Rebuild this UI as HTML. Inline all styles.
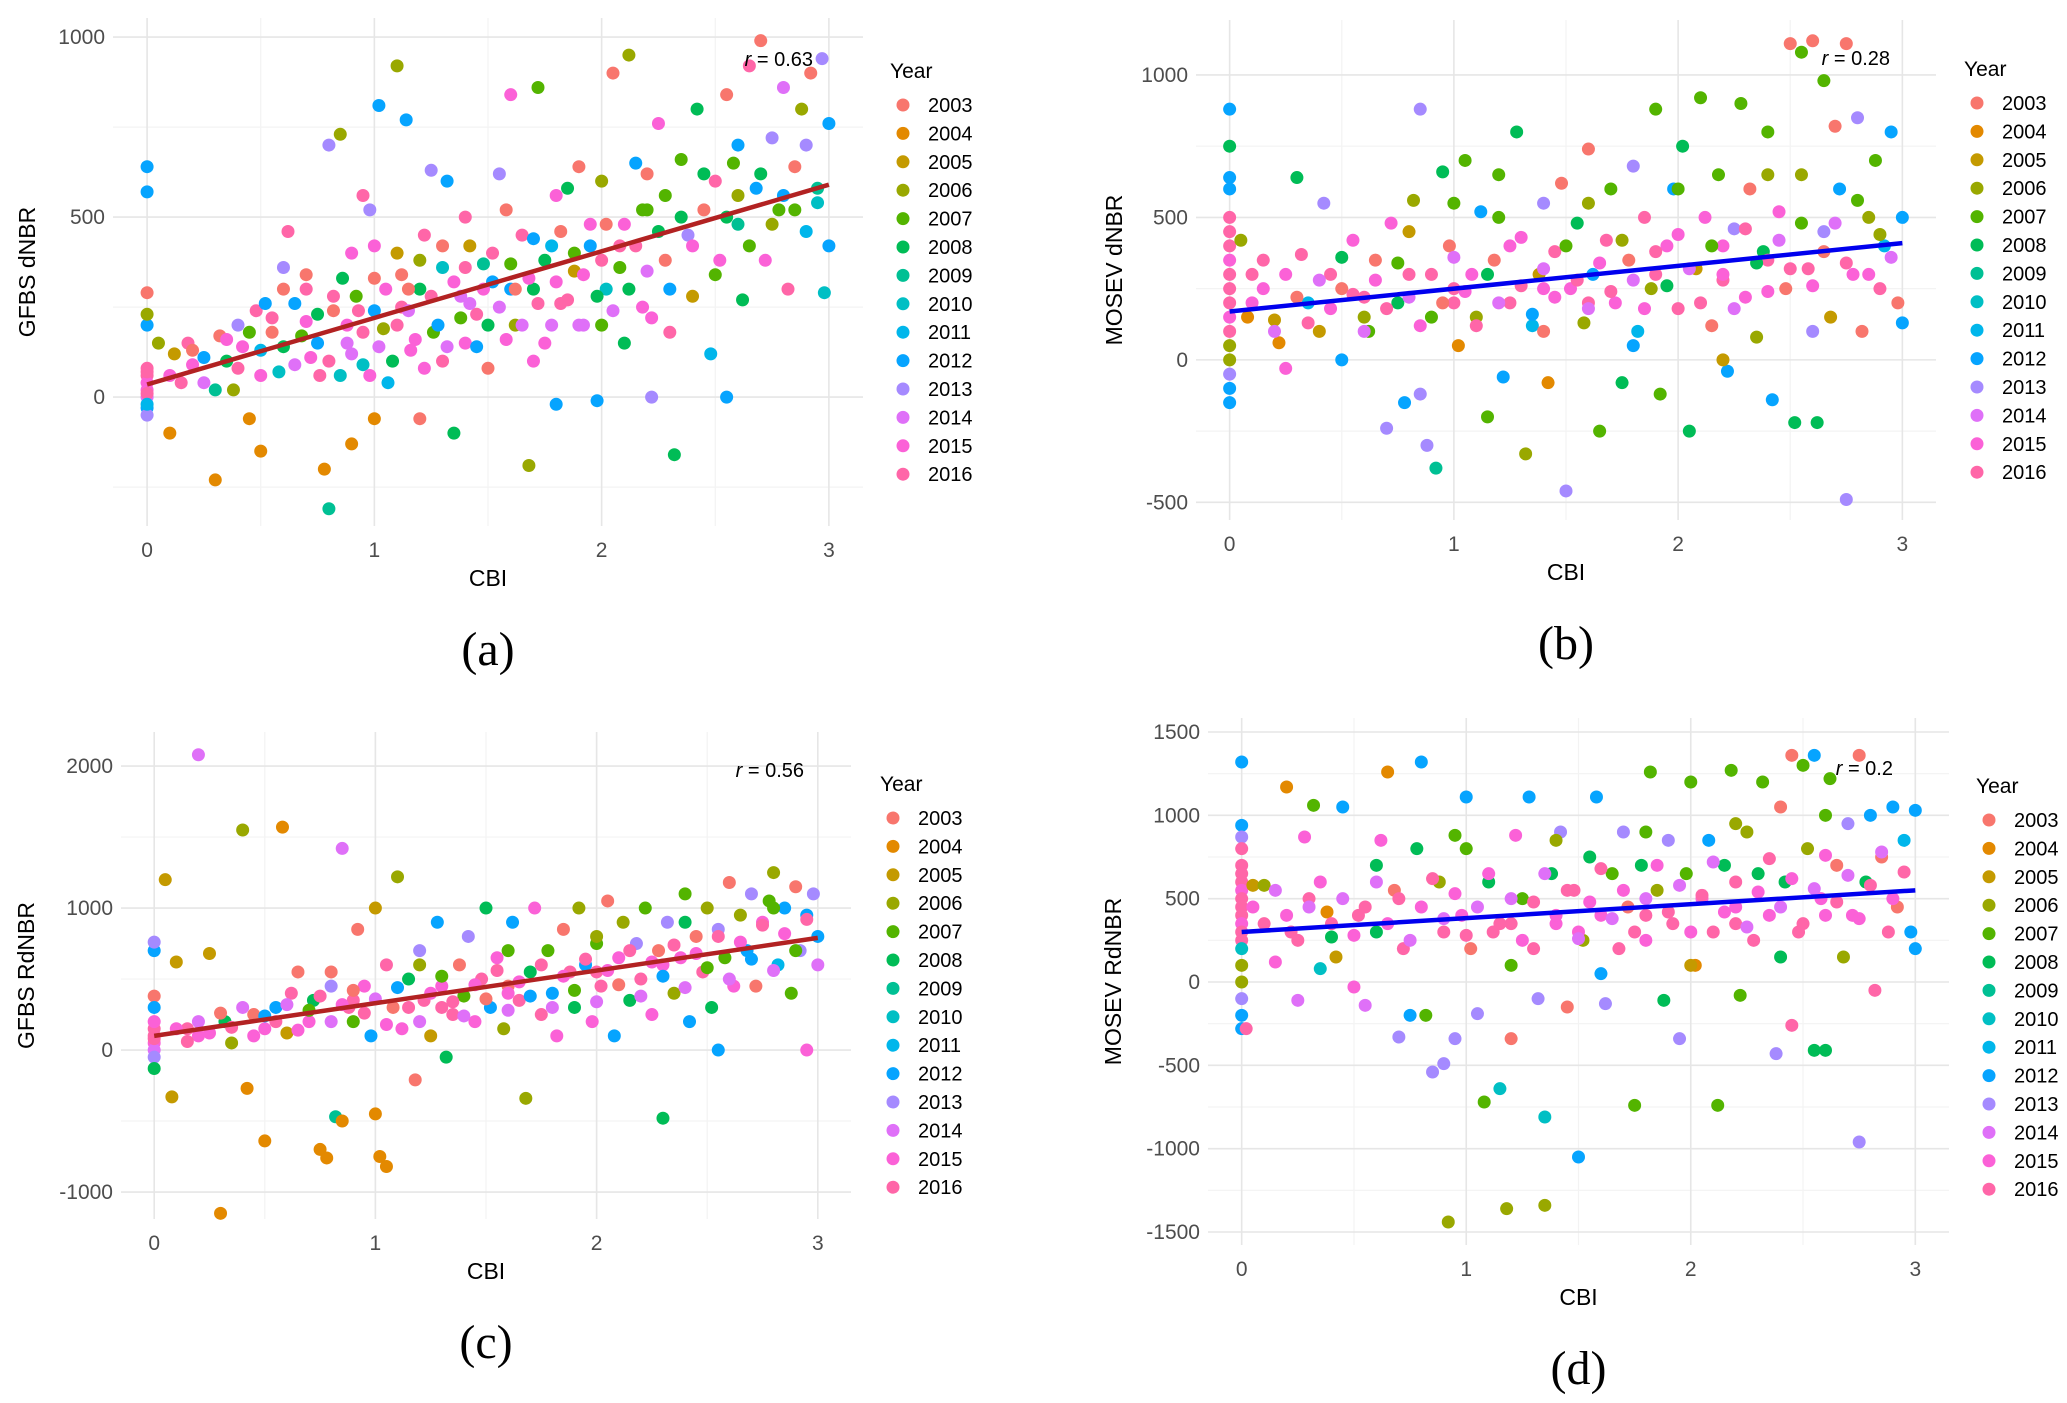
<!DOCTYPE html>
<html><head><meta charset="utf-8"><style>
html,body{margin:0;padding:0;background:#fff}
svg{display:block}
text{font-family:"Liberation Sans",sans-serif}
</style></head><body>
<svg id="fig" width="2067" height="1403" viewBox="0 0 2067 1403" xmlns="http://www.w3.org/2000/svg"></svg>
<script>
const years=["2003","2004","2005","2006","2007","2008","2009","2010","2011","2012","2013","2014","2015","2016"];
const colors=["#F8766D","#E38900","#C49A00","#99A800","#53B400","#00BC56","#00C094","#00BFC4","#00B6EB","#06A4FF","#A58AFF","#DF70F8","#FB61D7","#FF66A8"];
const xTicks=[0,1,2,3];
const aYTicks=[0,500,1000];
const bYTicks=[-500,0,500,1000];
const cYTicks=[-1000,0,1000,2000];
const dYTicks=[-1500,-1000,-500,0,500,1000,1500];
const aFit=[35,590]; const bFit=[170,410]; const cFit=[100,790]; const dFit=[300,550];
const rLabels=["0.63","0.28","0.56","0.2"];
const aPts=[[0,60,13],[0,20,12],[0,-30,9],[0,80,13],[0,0,11],[0,-50,10],[0,40,12],[0,640,9],[0,570,9],[0,200,9],[0,290,0],[0,230,3],[0,70,13],[0,10,13],[0,-20,8],
[0.05,150,3],[0.1,-100,1],[0.12,120,2],[0.18,150,13],[0.2,90,12],[0.25,40,11],[0.3,-230,1],[0.32,170,0],[0.35,100,5],[0.38,20,3],[0.4,200,10],[0.42,140,12],[0.45,-60,1],[0.48,240,13],[0.5,130,8],[0.5,-150,1],[0.52,260,9],[0.55,180,0],[0.58,70,7],[0.6,360,10],[0.62,460,13],[0.65,260,9],[0.68,170,4],[0.7,340,0],[0.72,110,12],[0.75,230,5],[0.76,60,13],[0.78,-200,1],[0.8,700,10],[0.8,-310,6],[0.82,280,13],[0.85,730,3],[0.86,330,5],[0.88,150,11],[0.9,-130,1],[0.9,400,12],[0.93,240,13],[0.95,90,7],[0.98,520,10],[1.0,-60,1],[1.0,330,0],[1.02,810,9],[1.04,190,3],[1.06,40,8],[1.1,920,3],[1.1,400,2],[1.12,250,13],[1.14,770,9],[1.16,130,12],[1.2,300,5],[1.2,-60,0],[1.22,450,13],[1.25,630,10],[1.26,180,4],[1.3,360,7],[1.32,600,9],[1.35,-100,5],[1.38,280,11],[1.4,150,12],[1.42,420,2],[1.45,230,13],[1.48,370,6],[1.5,80,0],[1.52,320,9],[1.55,620,10],[1.58,520,0],[1.6,840,12],[1.62,200,3],[1.65,450,13],[1.68,-190,3],[1.7,300,5],[1.72,860,4],[1.75,150,12],[1.78,420,8],[1.8,-20,9],[1.82,260,13],[1.85,580,5],[1.88,350,2],[1.9,640,0],[1.92,200,11],[1.95,480,12],[1.98,-10,9],[2.0,600,3],[2.02,300,7],[2.05,900,0],[2.08,420,13],[2.1,150,5],[2.12,950,3],[2.15,650,9],[2.18,250,12],[2.2,520,4],[2.22,0,10],[2.25,760,12],[2.28,380,0],[2.3,180,13],[2.32,-160,5],[2.35,660,4],[2.38,450,10],[2.4,280,2],[2.42,800,5],[2.45,520,0],[2.48,120,8],[2.5,600,13],[2.52,380,12],[2.55,840,0],[2.55,0,9],[2.58,650,4],[2.6,480,6],[2.62,270,5],[2.65,920,13],[2.68,580,9],[2.7,990,0],[2.72,380,12],[2.75,720,10],[2.78,520,4],[2.8,860,11],[2.82,300,13],[2.85,640,0],[2.88,800,3],[2.9,460,8],[2.92,900,0],[2.95,580,6],[2.97,940,10],[3.0,420,9],[3.0,760,9],[2.98,290,7],[0.95,560,13],[1.3,100,13],[1.7,100,12],[2.0,200,4],[1.6,300,9],[1.15,300,0],[0.7,300,13]];
const aPts2=[[0.1,60,12],[0.15,40,13],[0.2,130,0],[0.25,110,9],[0.3,20,6],[0.35,160,12],[0.4,80,13],[0.45,180,4],[0.5,60,12],[0.55,220,13],[0.6,140,5],[0.65,90,11],[0.7,210,12],[0.75,150,9],[0.8,100,13],[0.82,240,0],[0.85,60,7],[0.88,200,12],[0.9,120,11],[0.92,280,4],[0.95,180,13],[0.98,60,12],[1.0,240,9],[1.02,140,11],[1.05,300,12],[1.08,100,5],[1.1,200,13],[1.12,340,0],[1.15,240,11],[1.18,160,12],[1.2,380,3],[1.22,80,12],[1.25,280,13],[1.28,200,9],[1.3,420,0],[1.32,140,11],[1.35,320,12],[1.38,220,4],[1.4,360,13],[1.42,260,11],[1.45,140,9],[1.48,300,12],[1.5,200,5],[1.52,400,13],[1.55,250,11],[1.58,160,12],[1.6,370,4],[1.62,300,0],[1.65,200,11],[1.68,330,12],[1.7,440,9],[1.72,260,13],[1.75,380,5],[1.78,200,11],[1.8,320,12],[1.82,460,0],[1.85,270,13],[1.88,400,4],[1.9,200,11],[1.92,340,12],[1.95,420,9],[1.98,280,5],[2.0,380,13],[2.02,480,0],[2.05,240,11],[2.08,360,4],[2.1,480,12],[2.12,300,5],[2.15,420,13],[2.18,520,4],[2.2,350,11],[2.22,220,12],[2.25,460,5],[2.28,560,4],[2.3,300,9],[2.35,500,5],[2.4,420,12],[2.45,620,5],[2.5,340,4],[2.55,500,5],[2.6,560,3],[2.65,420,4],[2.7,620,5],[2.75,480,3],[2.8,560,9],[2.85,520,4],[2.9,700,10],[2.95,540,7],[0.6,300,0],[1.0,420,12],[1.4,500,13],[1.8,560,12],[2.2,620,0],[2.6,700,9]];
const bPts=[[0,500,13],[0,450,13],[0,400,13],[0,350,12],[0,300,13],[0,250,13],[0,200,13],[0,150,12],[0,100,13],[0,50,3],[0,0,3],[0,-50,10],[0,-100,9],[0,-150,9],[0,640,9],[0,880,9],[0,750,5],[0,600,9],
[0.05,420,3],[0.08,150,1],[0.1,300,13],[0.15,250,12],[0.2,140,2],[0.22,60,1],[0.25,-30,12],[0.3,640,5],[0.32,370,13],[0.35,200,8],[0.4,100,2],[0.42,550,10],[0.45,300,13],[0.5,0,9],[0.5,250,0],[0.55,420,12],[0.6,150,3],[0.62,100,4],[0.65,350,0],[0.7,-240,10],[0.72,480,12],[0.75,200,5],[0.78,-150,9],[0.8,300,13],[0.82,560,3],[0.85,880,10],[0.85,-120,10],[0.88,-300,10],[0.9,150,4],[0.92,-380,6],[0.95,660,5],[0.98,400,0],[1.0,250,13],[1.02,50,1],[1.05,700,4],[1.08,300,12],[1.1,150,3],[1.12,520,9],[1.15,-200,4],[1.18,350,0],[1.2,650,4],[1.22,-60,9],[1.25,200,13],[1.28,800,5],[1.3,430,12],[1.32,-330,3],[1.35,120,8],[1.38,300,2],[1.4,550,10],[1.42,-80,1],[1.45,380,13],[1.48,620,0],[1.5,-460,10],[1.52,250,12],[1.55,480,5],[1.58,130,3],[1.6,740,0],[1.62,300,9],[1.65,-250,4],[1.68,420,13],[1.7,600,4],[1.72,200,12],[1.75,-80,5],[1.78,350,0],[1.8,680,10],[1.82,100,8],[1.85,500,13],[1.88,250,3],[1.9,880,4],[1.92,-120,4],[1.95,400,12],[1.98,600,9],[2.0,180,13],[2.02,750,5],[2.05,-250,5],[2.08,320,2],[2.1,920,4],[2.12,500,12],[2.15,120,0],[2.18,650,4],[2.2,280,13],[2.22,-40,9],[2.25,460,10],[2.28,900,4],[2.3,220,12],[2.32,600,0],[2.35,80,3],[2.38,380,5],[2.4,800,4],[2.42,-140,9],[2.45,520,12],[2.48,250,0],[2.5,1110,0],[2.52,-220,5],[2.55,1080,4],[2.55,650,3],[2.58,320,13],[2.6,1120,0],[2.62,-220,5],[2.65,980,4],[2.65,450,10],[2.68,150,2],[2.7,820,0],[2.72,600,9],[2.75,1110,0],[2.75,-490,10],[2.78,300,12],[2.8,850,10],[2.82,100,0],[2.85,500,3],[2.88,700,4],[2.9,250,13],[2.92,400,8],[2.95,800,9],[2.98,200,0],[3.0,500,9],[3.0,130,9],[2.4,350,13],[1.9,300,13],[1.4,250,12],[1.0,200,13],[0.6,220,13],[2.2,400,12],[1.6,200,13]];
const bPts2=[[0.1,200,12],[0.15,350,13],[0.2,100,11],[0.25,300,12],[0.3,220,0],[0.35,130,13],[0.4,280,11],[0.45,180,12],[0.5,360,5],[0.55,230,13],[0.6,100,11],[0.65,280,12],[0.7,180,13],[0.75,340,4],[0.8,220,11],[0.85,120,12],[0.9,300,13],[0.95,200,0],[1.0,360,11],[1.05,240,12],[1.1,120,13],[1.15,300,5],[1.2,200,11],[1.25,400,12],[1.3,260,13],[1.35,160,9],[1.4,320,11],[1.45,220,12],[1.5,400,4],[1.55,280,13],[1.6,180,11],[1.65,340,12],[1.7,240,13],[1.75,420,3],[1.8,280,11],[1.85,180,12],[1.9,380,13],[1.95,260,5],[2.0,440,12],[2.05,320,11],[2.1,200,13],[2.15,400,4],[2.2,300,12],[2.25,180,11],[2.3,460,13],[2.35,340,5],[2.4,240,12],[2.45,420,11],[2.5,320,13],[2.55,480,4],[2.6,260,12],[2.65,380,0],[2.7,480,11],[2.75,340,13],[2.8,560,4],[2.85,300,12],[2.9,440,3],[2.95,360,11],[1.2,500,4],[1.6,550,3],[2.0,600,4],[2.4,650,3],[0.8,450,2],[1.0,550,4],[1.4,100,0],[1.8,50,9],[2.2,0,2],[2.6,100,10]];
const cPts=[[0,100,13],[0,50,12],[0,0,11],[0,150,13],[0,-50,10],[0,-130,5],[0,700,9],[0,760,10],[0,380,0],[0,200,12],[0,300,9],[0,80,13],
[0.05,1200,2],[0.08,-330,2],[0.1,620,2],[0.15,150,13],[0.2,2080,11],[0.2,100,12],[0.25,680,2],[0.3,-1150,1],[0.32,200,5],[0.35,50,3],[0.4,1550,3],[0.42,-270,1],[0.45,250,0],[0.5,150,12],[0.5,-640,1],[0.55,300,9],[0.58,1570,1],[0.6,120,2],[0.62,400,13],[0.65,550,0],[0.7,200,12],[0.72,350,5],[0.75,-700,1],[0.78,-760,1],[0.8,450,10],[0.82,-470,6],[0.85,1420,11],[0.85,-500,1],[0.88,300,13],[0.9,200,4],[0.92,850,0],[0.95,450,12],[0.98,100,9],[1.0,1000,2],[1.0,-450,1],[1.02,-750,1],[1.05,-820,1],[1.05,600,13],[1.08,300,0],[1.1,1220,3],[1.12,150,12],[1.15,500,5],[1.18,-210,0],[1.2,700,10],[1.22,350,13],[1.25,100,2],[1.28,900,9],[1.3,450,12],[1.32,-50,5],[1.35,250,13],[1.38,600,0],[1.4,380,4],[1.42,800,10],[1.45,200,12],[1.48,500,13],[1.5,1000,5],[1.52,300,9],[1.55,650,12],[1.58,150,3],[1.6,450,0],[1.62,900,9],[1.65,350,13],[1.68,-340,3],[1.7,550,5],[1.72,1000,12],[1.75,250,13],[1.78,700,4],[1.8,400,9],[1.82,100,12],[1.85,850,0],[1.88,550,13],[1.9,300,5],[1.92,1000,3],[1.95,600,9],[1.98,200,12],[2.0,750,4],[2.02,450,13],[2.05,1050,0],[2.08,100,9],[2.1,650,12],[2.12,900,3],[2.15,350,5],[2.18,750,10],[2.2,500,13],[2.22,1000,4],[2.25,250,12],[2.28,700,0],[2.3,-480,5],[2.32,900,10],[2.35,400,3],[2.38,650,12],[2.4,1100,4],[2.42,200,9],[2.45,800,0],[2.48,550,13],[2.5,1000,3],[2.52,300,5],[2.55,850,10],[2.55,0,9],[2.58,650,4],[2.6,1180,0],[2.62,450,12],[2.65,950,3],[2.68,700,9],[2.7,1100,10],[2.72,450,0],[2.75,900,12],[2.78,1050,4],[2.8,1250,3],[2.82,600,8],[2.85,1000,9],[2.88,400,4],[2.9,1150,0],[2.92,700,10],[2.95,0,12],[2.95,950,9],[2.98,1100,10],[3.0,800,9],[1.3,300,13],[1.6,400,12],[0.9,350,13],[2.0,550,13],[2.3,600,12]];
const cPts2=[[0.1,150,12],[0.15,60,13],[0.2,200,11],[0.25,120,12],[0.3,260,0],[0.35,160,13],[0.4,300,11],[0.45,100,12],[0.5,240,9],[0.55,200,13],[0.6,320,11],[0.65,140,12],[0.7,280,4],[0.75,380,13],[0.8,200,11],[0.85,320,12],[0.9,420,0],[0.95,260,13],[1.0,360,11],[1.05,180,12],[1.1,440,9],[1.15,300,13],[1.2,200,11],[1.25,400,12],[1.3,520,4],[1.35,340,13],[1.4,240,11],[1.45,460,12],[1.5,360,0],[1.55,560,13],[1.6,280,11],[1.65,480,12],[1.7,380,9],[1.75,600,13],[1.8,300,11],[1.85,520,12],[1.9,420,4],[1.95,640,13],[2.0,340,11],[2.05,560,12],[2.1,460,0],[2.15,700,13],[2.2,380,11],[2.25,620,12],[2.3,520,9],[2.35,740,13],[2.4,440,11],[2.45,680,12],[2.5,580,4],[2.55,800,13],[2.6,500,11],[2.65,760,12],[2.7,640,9],[2.75,880,13],[2.8,560,11],[2.85,820,12],[2.9,700,4],[2.95,920,13],[3.0,600,11],[1.2,600,3],[1.6,700,4],[2.0,800,3],[2.4,900,5],[2.8,1000,4],[0.8,550,0]];
const dPts=[[0,700,13],[0,650,13],[0,600,13],[0,550,12],[0,500,13],[0,450,13],[0,400,13],[0,350,12],[0,300,13],[0,250,13],[0,200,7],[0,100,3],[0,0,3],[0,-100,10],[0,-200,9],[0,-280,9],[0,1320,9],[0,940,9],[0,870,10],[0,800,13],
[0.02,-280,13],[0.05,580,2],[0.1,580,3],[0.15,120,12],[0.2,1170,1],[0.22,300,13],[0.25,-110,11],[0.28,870,12],[0.3,500,13],[0.32,1060,4],[0.35,80,7],[0.38,420,1],[0.4,270,5],[0.42,150,2],[0.45,1050,9],[0.5,-30,12],[0.52,400,13],[0.55,-140,11],[0.6,300,5],[0.62,850,12],[0.65,1260,1],[0.68,550,0],[0.7,-330,10],[0.72,200,13],[0.75,-200,9],[0.78,800,5],[0.8,1320,9],[0.82,-200,4],[0.85,-540,10],[0.88,600,3],[0.9,-490,10],[0.92,-1440,3],[0.95,-340,10],[0.95,880,4],[0.98,400,12],[1.0,1110,9],[1.02,200,0],[1.05,-190,10],[1.08,-720,4],[1.1,600,5],[1.12,300,13],[1.15,-640,7],[1.18,-1360,3],[1.2,-340,0],[1.22,880,12],[1.25,500,4],[1.28,1110,9],[1.3,200,13],[1.32,-100,10],[1.35,-1340,3],[1.35,-810,7],[1.38,650,5],[1.4,350,12],[1.42,900,10],[1.45,-150,0],[1.48,550,13],[1.5,-1050,9],[1.52,250,3],[1.55,750,5],[1.58,1110,9],[1.6,400,12],[1.62,-130,10],[1.65,650,4],[1.68,200,13],[1.7,900,10],[1.72,450,0],[1.75,-740,4],[1.78,700,5],[1.8,250,12],[1.82,1260,4],[1.85,550,3],[1.88,-110,5],[1.9,850,10],[1.92,350,13],[1.95,-340,10],[1.98,650,4],[2.0,1200,4],[2.02,100,1],[2.05,500,12],[2.08,850,9],[2.1,300,13],[2.12,-740,4],[2.15,700,5],[2.18,1270,4],[2.2,450,12],[2.22,-80,4],[2.25,900,3],[2.28,250,13],[2.3,650,5],[2.32,1200,4],[2.35,400,12],[2.38,-430,10],[2.4,1050,0],[2.42,600,5],[2.45,1360,0],[2.45,-260,13],[2.48,300,13],[2.5,1300,4],[2.52,800,3],[2.55,-410,5],[2.55,1360,9],[2.58,500,12],[2.6,-410,5],[2.62,1220,4],[2.65,700,0],[2.68,150,3],[2.7,950,10],[2.72,400,12],[2.75,1360,0],[2.75,-960,10],[2.78,600,5],[2.8,1000,9],[2.82,-50,13],[2.85,750,0],[2.88,300,13],[2.9,1050,9],[2.92,450,0],[2.95,850,8],[2.98,300,9],[3.0,1030,9],[3.0,200,9],[1.2,350,13],[1.5,300,12],[1.8,400,13],[2.2,350,13],[0.9,300,13],[2.6,400,12]];
const dPts2=[[0.05,450,12],[0.1,350,13],[0.15,550,11],[0.2,400,12],[0.25,250,13],[0.3,450,11],[0.35,600,12],[0.4,350,13],[0.45,500,11],[0.5,280,12],[0.55,450,13],[0.6,600,11],[0.65,350,12],[0.7,500,13],[0.75,250,11],[0.8,450,12],[0.85,620,13],[0.9,380,11],[0.95,530,12],[1.0,280,13],[1.05,450,11],[1.1,650,12],[1.15,350,13],[1.2,500,11],[1.25,250,12],[1.3,480,13],[1.35,650,11],[1.4,400,12],[1.45,550,13],[1.5,260,11],[1.55,480,12],[1.6,680,13],[1.65,380,11],[1.7,550,12],[1.75,300,13],[1.8,500,11],[1.85,700,12],[1.9,420,13],[1.95,580,11],[2.0,300,12],[2.05,520,13],[2.1,720,11],[2.15,420,12],[2.2,600,13],[2.25,330,11],[2.3,540,12],[2.35,740,13],[2.4,450,11],[2.45,620,12],[2.5,350,13],[2.55,560,11],[2.6,760,12],[2.65,480,13],[2.7,640,11],[2.75,380,12],[2.8,580,13],[2.85,780,11],[2.9,500,12],[2.95,660,13],[1.0,800,4],[1.4,850,3],[1.8,900,4],[2.2,950,3],[2.6,1000,4],[0.6,700,5],[1.2,100,4],[1.6,50,9],[2.0,100,2],[2.4,150,5]];

const NS="http://www.w3.org/2000/svg";
const svg=document.getElementById('fig');
function mk(tag,attrs,parent,txt){const e=document.createElementNS(NS,tag);for(const k in attrs)e.setAttribute(k,attrs[k]);if(txt!==undefined)e.textContent=txt;parent.appendChild(e);return e;}

const panels=[
 {id:'a',pts:aPts.concat(aPts2),yt:aYTicks,fit:aFit,col:'#B22222',L:113,R:863,T:18,B:526,x0:-0.15,x1:3.15,y0:-358,y1:1053,ytitle:'GFBS dNBR',ytx:27,lgX:890,lgTY:71,lgY:105,rx:813,ry:66,r:rLabels[0]},
 {id:'b',pts:bPts.concat(bPts2),yt:bYTicks,fit:bFit,col:'#0000EE',L:1196,R:1936,T:20,B:520,x0:-0.15,x1:3.15,y0:-562,y1:1193,ytitle:'MOSEV dNBR',ytx:1114,lgX:1964,lgTY:69,lgY:103,rx:1890,ry:65,r:rLabels[1]},
 {id:'c',pts:cPts.concat(cPts2),yt:cYTicks,fit:cFit,col:'#B22222',L:121,R:851,T:732,B:1219,x0:-0.15,x1:3.15,y0:-1190,y1:2240,ytitle:'GFBS RdNBR',ytx:26,lgX:880,lgTY:784,lgY:818,rx:804,ry:777,r:rLabels[2]},
 {id:'d',pts:dPts.concat(dPts2),yt:dYTicks,fit:dFit,col:'#0000EE',L:1208,R:1949,T:718,B:1245,x0:-0.15,x1:3.15,y0:-1578,y1:1584,ytitle:'MOSEV RdNBR',ytx:1113,lgX:1976,lgTY:786,lgY:820,rx:1893,ry:775,r:rLabels[3]}
];

panels.forEach(p=>{
 const g=mk('g',{},svg);
 
 
 const sx=v=>p.L+(v-p.x0)/(p.x1-p.x0)*(p.R-p.L);
 const sy=v=>p.B-(v-p.y0)/(p.y1-p.y0)*(p.B-p.T);
 const grid=mk('g',{},g);
 
 
 for(let i=0;i<xTicks.length-1;i++){const xv=(xTicks[i]+xTicks[i+1])/2;mk('line',{x1:sx(xv),x2:sx(xv),y1:p.T,y2:p.B,stroke:'#f3f3f3','stroke-width':1.2},grid);}
 for(let i=0;i<p.yt.length-1;i++){const yv=(p.yt[i]+p.yt[i+1])/2;mk('line',{x1:p.L,x2:p.R,y1:sy(yv),y2:sy(yv),stroke:'#f3f3f3','stroke-width':1.2},grid);}
 const lo=p.yt[0]-(p.yt[1]-p.yt[0])/2, hi=p.yt[p.yt.length-1]+(p.yt[1]-p.yt[0])/2;
 [lo,hi].forEach(v=>{if(v>p.y0&&v<p.y1)mk('line',{x1:p.L,x2:p.R,y1:sy(v),y2:sy(v),stroke:'#f3f3f3','stroke-width':1.2},grid);});
 xTicks.forEach(t=>{mk('line',{x1:sx(t),x2:sx(t),y1:p.T,y2:p.B,stroke:'#e6e6e6','stroke-width':1.6},grid);
   const tl=mk('text',{x:sx(t),y:p.B+31,'font-size':21,fill:'#4d4d4d','text-anchor':'middle'},g,String(t));
   
   });
 p.yt.forEach(t=>{mk('line',{x1:p.L,x2:p.R,y1:sy(t),y2:sy(t),stroke:'#e6e6e6','stroke-width':1.6},grid);
   const tl=mk('text',{x:p.L-8,y:sy(t)+7,'font-size':21,fill:'#4d4d4d','text-anchor':'end'},g,String(t));
   
   });
 const pts=mk('g',{},g);
 
 
 p.pts.forEach(d=>{const c=mk('circle',{cx:sx(d[0]),cy:sy(d[1]),r:6.5,fill:colors[d[2]]},pts);
   
   });
 const fl=mk('line',{x1:sx(0),y1:sy(p.fit[0]),x2:sx(3),y2:sy(p.fit[1]),stroke:p.col,'stroke-width':4.5},g);
 
 
 const rt=mk('text',{x:p.rx,y:p.ry,'font-size':20,fill:'#000','text-anchor':'end'},g);
 
 
 mk('tspan',{'font-style':'italic'},rt,'r');
 mk('tspan',{},rt,' = '+p.r);
 const xt=mk('text',{x:(sx(0)+sx(3))/2,y:p.B+60,'font-size':23,fill:'#000','text-anchor':'middle'},g,'CBI');
 
 
 const yc=(p.T+p.B)/2;
 const yt=mk('text',{x:p.ytx,y:yc,'font-size':23,fill:'#000','text-anchor':'middle',transform:`rotate(-90 ${p.ytx} ${yc})`,'dominant-baseline':'central'},g,p.ytitle);
 
 
 const cap=mk('text',{x:(sx(0)+sx(3))/2,y:p.B+139,'font-size':48,fill:'#000','text-anchor':'middle',style:'font-family:"Liberation Serif",serif'},g,'('+p.id+')');
 
 
 const lg=mk('g',{},g);
 
 
 const lt=mk('text',{x:p.lgX,y:p.lgTY+7,'font-size':21,fill:'#000'},lg,'Year');
 
 
 years.forEach((y,i)=>{const cy=p.lgY+i*28.4;
   const e=mk('g',{},lg);
   
   
   mk('circle',{cx:p.lgX+13,cy:cy,r:6.5,fill:colors[i]},e);
   mk('text',{x:p.lgX+38,y:cy+7,'font-size':20,fill:'#000'},e,y);});
});
</script>
</body></html>
